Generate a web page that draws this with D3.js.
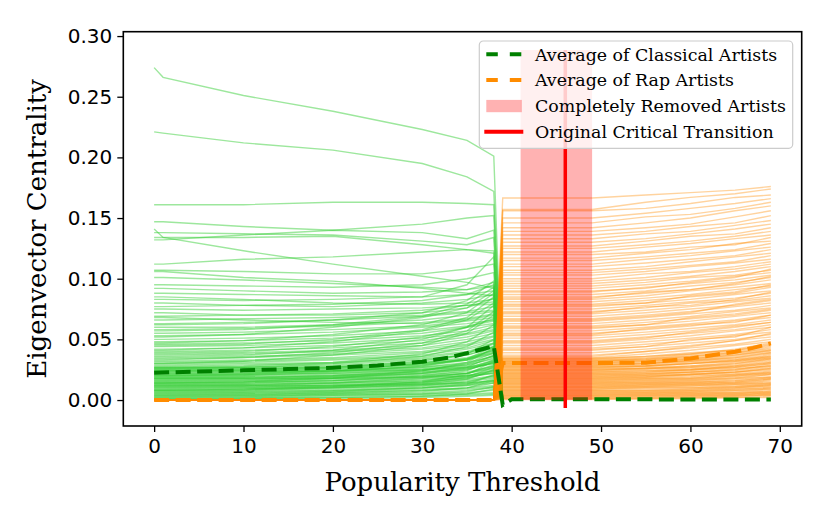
<!DOCTYPE html>
<html>
<head>
<meta charset="utf-8">
<script src="https://cdn.jsdelivr.net/npm/d3@7"></script>
<style>
	body { margin: 0; background: #fff; }
	svg { display: block; }
</style>
</head>
<body>
<svg id="chart" width="830" height="523"></svg>
<script>
var classicalX = [0, 1, 10, 20, 30, 35, 38, 39];
var classicalLines = [
	[0.274, 0.266, 0.251, 0.238, 0.223, 0.214, 0.201, 0],
	[0.221, 0.220, 0.212, 0.206, 0.195, 0.184, 0.172, 0],
	[0.161, 0.161, 0.161, 0.163, 0.163, 0.162, 0.161, 0],
	[0.147, 0.147, 0.143, 0.140, 0.145, 0.150, 0.152, 0],
	[0.141, 0.134, 0.123, 0.112, 0.102, 0.097, 0.092, 0],
	[0.138, 0.138, 0.137, 0.136, 0.131, 0.128, 0.134, 0],
	[0.132, 0.132, 0.136, 0.140, 0.138, 0.133, 0.140, 0],
	[0.134, 0.134, 0.134, 0.135, 0.128, 0.124, 0.123, 0],
	[0.112, 0.112, 0.116, 0.118, 0.122, 0.124, 0.121, 0],
	[0.107, 0.107, 0.106, 0.104, 0.104, 0.108, 0.112, 0],
	[0.106, 0.106, 0.101, 0.098, 0.092, 0.088, 0.086, 0],
	[0.101, 0.101, 0.099, 0.096, 0.093, 0.091, 0.094, 0],
	[0.095, 0.095, 0.094, 0.093, 0.095, 0.100, 0.105, 0],
	[0.092, 0.092, 0.090, 0.088, 0.089, 0.091, 0.097, 0],
	[0.088, 0.088, 0.087, 0.086, 0.085, 0.087, 0.090, 0],
	[0.085, 0.085, 0.083, 0.080, 0.079, 0.080, 0.083, 0],
	[0.083, 0.083, 0.082, 0.083, 0.085, 0.095, 0.118, 0],
	[0.080, 0.080, 0.078, 0.077, 0.080, 0.083, 0.087, 0],
	[0.077, 0.077, 0.078, 0.079, 0.082, 0.087, 0.095, 0],
	[0.075, 0.075, 0.074, 0.075, 0.076, 0.078, 0.081, 0],
	[0.072, 0.072, 0.070, 0.071, 0.074, 0.078, 0.079, 0],
	[0.069, 0.069, 0.070, 0.070, 0.072, 0.076, 0.084, 0],
	[0.068, 0.068, 0.066, 0.064, 0.063, 0.066, 0.070, 0],
	[0.066, 0.066, 0.067, 0.068, 0.070, 0.073, 0.077, 0],
	[0.063, 0.063, 0.064, 0.066, 0.069, 0.072, 0.074, 0],
	[0.062, 0.062, 0.063, 0.066, 0.072, 0.082, 0.098, 0],
	[0.060, 0.060, 0.060, 0.062, 0.066, 0.070, 0.073, 0],
	[0.058, 0.058, 0.059, 0.061, 0.064, 0.067, 0.071, 0],
	[0.057, 0.057, 0.058, 0.062, 0.069, 0.079, 0.093, 0],
	[0.055, 0.055, 0.056, 0.058, 0.061, 0.065, 0.068, 0],
	[0.053, 0.053, 0.054, 0.056, 0.060, 0.063, 0.066, 0],
	[0.052, 0.052, 0.054, 0.060, 0.068, 0.076, 0.090, 0],
	[0.050, 0.050, 0.051, 0.053, 0.057, 0.061, 0.065, 0],
	[0.048, 0.048, 0.049, 0.051, 0.055, 0.060, 0.063, 0],
	[0.047, 0.047, 0.049, 0.054, 0.062, 0.072, 0.088, 0],
	[0.046, 0.046, 0.047, 0.049, 0.053, 0.057, 0.062, 0],
	[0.045, 0.045, 0.046, 0.050, 0.058, 0.068, 0.085, 0],
	[0.044, 0.044, 0.045, 0.047, 0.051, 0.055, 0.060, 0],
	[0.042, 0.042, 0.043, 0.045, 0.049, 0.054, 0.058, 0],
	[0.041, 0.041, 0.043, 0.048, 0.057, 0.066, 0.080, 0],
	[0.040, 0.040, 0.041, 0.043, 0.047, 0.052, 0.057, 0],
	[0.039, 0.039, 0.040, 0.044, 0.052, 0.060, 0.067, 0],
	[0.038, 0.038, 0.039, 0.041, 0.045, 0.050, 0.055, 0],
	[0.037, 0.037, 0.038, 0.040, 0.043, 0.048, 0.053, 0],
	[0.036, 0.036, 0.037, 0.041, 0.050, 0.060, 0.078, 0],
	[0.035, 0.035, 0.036, 0.038, 0.042, 0.046, 0.052, 0],
	[0.034, 0.034, 0.035, 0.037, 0.040, 0.045, 0.050, 0],
	[0.033, 0.033, 0.035, 0.039, 0.047, 0.057, 0.073, 0],
	[0.032, 0.032, 0.033, 0.035, 0.039, 0.043, 0.049, 0],
	[0.031, 0.031, 0.032, 0.034, 0.037, 0.042, 0.047, 0],
	[0.030, 0.030, 0.032, 0.037, 0.045, 0.055, 0.070, 0],
	[0.030, 0.030, 0.031, 0.033, 0.036, 0.040, 0.046, 0],
	[0.029, 0.029, 0.030, 0.031, 0.035, 0.039, 0.044, 0],
	[0.028, 0.028, 0.029, 0.030, 0.034, 0.037, 0.043, 0],
	[0.027, 0.027, 0.028, 0.031, 0.038, 0.048, 0.062, 0],
	[0.027, 0.027, 0.027, 0.028, 0.031, 0.035, 0.041, 0],
	[0.0265, 0.0265, 0.027, 0.029, 0.033, 0.037, 0.044, 0],
	[0.026, 0.026, 0.027, 0.030, 0.036, 0.044, 0.056, 0],
	[0.026, 0.026, 0.026, 0.027, 0.030, 0.033, 0.038, 0],
	[0.0255, 0.0255, 0.026, 0.027, 0.030, 0.034, 0.039, 0],
	[0.025, 0.025, 0.025, 0.026, 0.029, 0.033, 0.040, 0],
	[0.0245, 0.0245, 0.025, 0.027, 0.032, 0.038, 0.047, 0],
	[0.024, 0.024, 0.024, 0.025, 0.027, 0.031, 0.036, 0],
	[0.024, 0.024, 0.024, 0.024, 0.025, 0.027, 0.030, 0],
	[0.0235, 0.0235, 0.024, 0.026, 0.029, 0.034, 0.041, 0],
	[0.023, 0.023, 0.023, 0.024, 0.026, 0.029, 0.034, 0],
	[0.0225, 0.0225, 0.023, 0.024, 0.027, 0.030, 0.036, 0],
	[0.022, 0.022, 0.022, 0.023, 0.025, 0.028, 0.035, 0],
	[0.0215, 0.0215, 0.022, 0.024, 0.028, 0.033, 0.042, 0],
	[0.021, 0.021, 0.021, 0.022, 0.024, 0.027, 0.032, 0],
	[0.0205, 0.0205, 0.021, 0.022, 0.025, 0.029, 0.037, 0],
	[0.020, 0.020, 0.020, 0.021, 0.023, 0.026, 0.030, 0],
	[0.020, 0.020, 0.021, 0.024, 0.030, 0.038, 0.050, 0],
	[0.0195, 0.0195, 0.020, 0.023, 0.028, 0.034, 0.044, 0],
	[0.019, 0.019, 0.019, 0.020, 0.022, 0.025, 0.031, 0],
	[0.0185, 0.0185, 0.019, 0.020, 0.023, 0.026, 0.033, 0],
	[0.018, 0.018, 0.018, 0.019, 0.021, 0.023, 0.028, 0],
	[0.018, 0.018, 0.018, 0.018, 0.019, 0.020, 0.022, 0],
	[0.0175, 0.0175, 0.018, 0.020, 0.024, 0.030, 0.039, 0],
	[0.017, 0.017, 0.017, 0.018, 0.020, 0.022, 0.026, 0],
	[0.0165, 0.0165, 0.017, 0.019, 0.022, 0.025, 0.031, 0],
	[0.016, 0.016, 0.016, 0.017, 0.019, 0.022, 0.027, 0],
	[0.0155, 0.0155, 0.016, 0.018, 0.022, 0.027, 0.037, 0],
	[0.015, 0.015, 0.015, 0.016, 0.018, 0.020, 0.024, 0],
	[0.0145, 0.0145, 0.015, 0.016, 0.019, 0.022, 0.028, 0],
	[0.014, 0.014, 0.014, 0.015, 0.017, 0.019, 0.022, 0],
	[0.014, 0.014, 0.015, 0.018, 0.024, 0.031, 0.043, 0],
	[0.0135, 0.0135, 0.014, 0.016, 0.020, 0.024, 0.033, 0],
	[0.013, 0.013, 0.013, 0.014, 0.016, 0.018, 0.023, 0],
	[0.0125, 0.0125, 0.013, 0.014, 0.016, 0.020, 0.025, 0],
	[0.012, 0.012, 0.012, 0.013, 0.015, 0.017, 0.020, 0],
	[0.012, 0.012, 0.012, 0.012, 0.013, 0.014, 0.016, 0],
	[0.0115, 0.0115, 0.012, 0.014, 0.018, 0.022, 0.029, 0],
	[0.011, 0.011, 0.011, 0.012, 0.014, 0.016, 0.019, 0],
	[0.0105, 0.0105, 0.011, 0.012, 0.015, 0.018, 0.024, 0],
	[0.010, 0.010, 0.010, 0.011, 0.013, 0.015, 0.018, 0],
	[0.0095, 0.0095, 0.010, 0.011, 0.014, 0.019, 0.027, 0],
	[0.009, 0.009, 0.009, 0.010, 0.012, 0.014, 0.016, 0],
	[0.0085, 0.0085, 0.009, 0.010, 0.012, 0.015, 0.020, 0],
	[0.008, 0.008, 0.008, 0.009, 0.011, 0.013, 0.015, 0],
	[0.008, 0.008, 0.009, 0.011, 0.015, 0.021, 0.032, 0],
	[0.0075, 0.0075, 0.008, 0.010, 0.013, 0.017, 0.025, 0],
	[0.007, 0.007, 0.007, 0.008, 0.010, 0.012, 0.014, 0],
	[0.0065, 0.0065, 0.007, 0.008, 0.010, 0.012, 0.017, 0],
	[0.006, 0.006, 0.006, 0.007, 0.009, 0.010, 0.012, 0],
	[0.0055, 0.0055, 0.006, 0.007, 0.010, 0.013, 0.021, 0],
	[0.005, 0.005, 0.005, 0.006, 0.008, 0.009, 0.011, 0],
	[0.0045, 0.0045, 0.005, 0.006, 0.008, 0.010, 0.014, 0],
	[0.004, 0.004, 0.004, 0.005, 0.006, 0.008, 0.010, 0],
	[0.0035, 0.0035, 0.004, 0.005, 0.007, 0.010, 0.016, 0],
	[0.003, 0.003, 0.003, 0.004, 0.005, 0.006, 0.008, 0],
	[0.0025, 0.0025, 0.003, 0.004, 0.005, 0.007, 0.011, 0],
	[0.002, 0.002, 0.002, 0.003, 0.004, 0.005, 0.006, 0],
	[0.0015, 0.0015, 0.002, 0.002, 0.003, 0.005, 0.009, 0],
	[0.001, 0.001, 0.001, 0.002, 0.003, 0.004, 0.005, 0],
	[0.0005, 0.0005, 0.001, 0.001, 0.002, 0.003, 0.004, 0]
];

// rap artists sit at zero until the transition, then stay flat until 49
var rapPreX = [0, 38];
var rapPreValue = 0;
var rapX = [39, 49, 55, 60, 65, 69];
var rapLines = [
	[0.1665, 0.1665, 0.169, 0.171, 0.173, 0.176],
	[0.157, 0.157, 0.163, 0.167, 0.170, 0.174],
	[0.156, 0.156, 0.158, 0.162, 0.167, 0.169],
	[0.150, 0.150, 0.154, 0.158, 0.162, 0.166],
	[0.146, 0.146, 0.151, 0.153, 0.158, 0.163],
	[0.142, 0.142, 0.146, 0.150, 0.156, 0.160],
	[0.139, 0.139, 0.142, 0.145, 0.151, 0.156],
	[0.136, 0.136, 0.139, 0.143, 0.146, 0.152],
	[0.133, 0.133, 0.137, 0.139, 0.144, 0.148],
	[0.130, 0.130, 0.133, 0.137, 0.141, 0.145],
	[0.127, 0.127, 0.131, 0.135, 0.137, 0.142],
	[0.125, 0.125, 0.128, 0.131, 0.135, 0.139],
	[0.122, 0.122, 0.126, 0.129, 0.133, 0.136],
	[0.120, 0.120, 0.122, 0.126, 0.128, 0.134],
	[0.117, 0.117, 0.121, 0.124, 0.129, 0.131],
	[0.115, 0.115, 0.118, 0.121, 0.124, 0.129],
	[0.112, 0.112, 0.116, 0.119, 0.123, 0.126],
	[0.110, 0.110, 0.113, 0.116, 0.119, 0.124],
	[0.107, 0.107, 0.110, 0.114, 0.118, 0.121],
	[0.105, 0.105, 0.108, 0.111, 0.114, 0.119],
	[0.103, 0.103, 0.106, 0.110, 0.113, 0.116],
	[0.100, 0.100, 0.104, 0.106, 0.110, 0.114],
	[0.098, 0.098, 0.101, 0.105, 0.108, 0.112],
	[0.096, 0.096, 0.099, 0.102, 0.106, 0.110],
	[0.094, 0.094, 0.097, 0.101, 0.103, 0.107],
	[0.092, 0.092, 0.095, 0.098, 0.102, 0.105],
	[0.090, 0.090, 0.092, 0.097, 0.101, 0.108],
	[0.089, 0.089, 0.093, 0.096, 0.099, 0.103],
	[0.087, 0.087, 0.090, 0.094, 0.097, 0.101],
	[0.085, 0.085, 0.088, 0.091, 0.095, 0.099],
	[0.084, 0.084, 0.089, 0.091, 0.096, 0.102],
	[0.083, 0.083, 0.086, 0.090, 0.093, 0.096],
	[0.081, 0.081, 0.084, 0.087, 0.091, 0.094],
	[0.079, 0.079, 0.082, 0.085, 0.088, 0.093],
	[0.078, 0.078, 0.080, 0.086, 0.089, 0.095],
	[0.077, 0.077, 0.080, 0.083, 0.087, 0.090],
	[0.075, 0.075, 0.078, 0.081, 0.084, 0.088],
	[0.073, 0.073, 0.076, 0.080, 0.082, 0.086],
	[0.072, 0.072, 0.077, 0.078, 0.083, 0.089],
	[0.071, 0.071, 0.074, 0.077, 0.081, 0.084],
	[0.069, 0.069, 0.072, 0.075, 0.078, 0.082],
	[0.067, 0.067, 0.070, 0.073, 0.077, 0.080],
	[0.066, 0.066, 0.069, 0.072, 0.079, 0.083],
	[0.065, 0.065, 0.068, 0.071, 0.074, 0.078],
	[0.063, 0.063, 0.066, 0.069, 0.073, 0.076],
	[0.061, 0.061, 0.064, 0.067, 0.070, 0.074],
	[0.060, 0.060, 0.062, 0.068, 0.071, 0.075],
	[0.059, 0.059, 0.062, 0.065, 0.069, 0.072],
	[0.057, 0.057, 0.060, 0.063, 0.066, 0.070],
	[0.055, 0.055, 0.058, 0.061, 0.065, 0.068],
	[0.054, 0.054, 0.059, 0.062, 0.064, 0.070],
	[0.053, 0.053, 0.056, 0.059, 0.062, 0.066],
	[0.051, 0.051, 0.054, 0.057, 0.061, 0.064],
	[0.049, 0.049, 0.052, 0.055, 0.058, 0.062],
	[0.048, 0.048, 0.051, 0.056, 0.060, 0.064],
	[0.047, 0.047, 0.050, 0.053, 0.057, 0.060],
	[0.045, 0.045, 0.048, 0.051, 0.054, 0.058],
	[0.043, 0.043, 0.046, 0.049, 0.053, 0.056],
	[0.042, 0.042, 0.044, 0.050, 0.052, 0.060],
	[0.041, 0.041, 0.044, 0.047, 0.050, 0.054],
	[0.039, 0.039, 0.042, 0.045, 0.049, 0.052],
	[0.037, 0.037, 0.040, 0.043, 0.046, 0.050],
	[0.036, 0.036, 0.040, 0.044, 0.049, 0.055],
	[0.035, 0.035, 0.038, 0.041, 0.045, 0.048],
	[0.0345, 0.0345, 0.036, 0.038, 0.042, 0.047],
	[0.034, 0.034, 0.036, 0.039, 0.041, 0.045],
	[0.0335, 0.0335, 0.035, 0.038, 0.041, 0.046],
	[0.033, 0.033, 0.034, 0.036, 0.039, 0.042],
	[0.0325, 0.0325, 0.033, 0.035, 0.038, 0.041],
	[0.032, 0.032, 0.034, 0.037, 0.040, 0.044],
	[0.0315, 0.0315, 0.033, 0.036, 0.039, 0.043],
	[0.031, 0.031, 0.032, 0.034, 0.037, 0.040],
	[0.0305, 0.0305, 0.032, 0.034, 0.037, 0.041],
	[0.030, 0.030, 0.031, 0.033, 0.036, 0.039],
	[0.0295, 0.0295, 0.030, 0.032, 0.034, 0.037],
	[0.029, 0.029, 0.030, 0.032, 0.035, 0.038],
	[0.0285, 0.0285, 0.030, 0.033, 0.035, 0.039],
	[0.028, 0.028, 0.029, 0.031, 0.033, 0.036],
	[0.0275, 0.0275, 0.028, 0.030, 0.032, 0.035],
	[0.027, 0.027, 0.028, 0.030, 0.032, 0.035],
	[0.0265, 0.0265, 0.028, 0.030, 0.033, 0.036],
	[0.026, 0.026, 0.027, 0.028, 0.031, 0.034],
	[0.0255, 0.0255, 0.026, 0.028, 0.030, 0.033],
	[0.025, 0.025, 0.026, 0.027, 0.029, 0.032],
	[0.0245, 0.0245, 0.026, 0.027, 0.030, 0.034],
	[0.024, 0.024, 0.025, 0.026, 0.028, 0.031],
	[0.0235, 0.0235, 0.024, 0.025, 0.027, 0.030],
	[0.023, 0.023, 0.024, 0.025, 0.027, 0.030],
	[0.0225, 0.0225, 0.023, 0.025, 0.028, 0.031],
	[0.022, 0.022, 0.023, 0.024, 0.026, 0.028],
	[0.0215, 0.0215, 0.022, 0.023, 0.025, 0.028],
	[0.021, 0.021, 0.022, 0.023, 0.024, 0.027],
	[0.0205, 0.0205, 0.021, 0.023, 0.025, 0.029],
	[0.020, 0.020, 0.021, 0.022, 0.023, 0.026],
	[0.0195, 0.0195, 0.020, 0.021, 0.023, 0.025],
	[0.019, 0.019, 0.020, 0.021, 0.022, 0.024],
	[0.0185, 0.0185, 0.019, 0.021, 0.023, 0.026],
	[0.018, 0.018, 0.019, 0.020, 0.021, 0.023],
	[0.0175, 0.0175, 0.018, 0.019, 0.021, 0.023],
	[0.017, 0.017, 0.018, 0.018, 0.020, 0.022],
	[0.0165, 0.0165, 0.017, 0.018, 0.020, 0.022],
	[0.016, 0.016, 0.017, 0.017, 0.019, 0.021],
	[0.0155, 0.0155, 0.016, 0.017, 0.018, 0.021],
	[0.015, 0.015, 0.016, 0.016, 0.018, 0.019],
	[0.0145, 0.0145, 0.015, 0.016, 0.017, 0.019],
	[0.014, 0.014, 0.015, 0.015, 0.016, 0.018],
	[0.0135, 0.0135, 0.014, 0.015, 0.016, 0.018],
	[0.013, 0.013, 0.014, 0.014, 0.015, 0.017],
	[0.0125, 0.0125, 0.013, 0.014, 0.015, 0.017],
	[0.012, 0.012, 0.013, 0.013, 0.014, 0.016],
	[0.0115, 0.0115, 0.012, 0.013, 0.014, 0.015],
	[0.011, 0.011, 0.012, 0.012, 0.013, 0.014],
	[0.0105, 0.0105, 0.011, 0.012, 0.013, 0.014],
	[0.010, 0.010, 0.011, 0.011, 0.012, 0.013],
	[0.0095, 0.0095, 0.010, 0.010, 0.011, 0.013],
	[0.009, 0.009, 0.010, 0.010, 0.011, 0.012],
	[0.0085, 0.0085, 0.009, 0.009, 0.010, 0.012],
	[0.008, 0.008, 0.008, 0.009, 0.010, 0.011],
	[0.0075, 0.0075, 0.008, 0.008, 0.009, 0.010],
	[0.007, 0.007, 0.007, 0.008, 0.009, 0.010],
	[0.0065, 0.0065, 0.007, 0.007, 0.008, 0.009],
	[0.006, 0.006, 0.006, 0.007, 0.008, 0.009],
	[0.0055, 0.0055, 0.006, 0.006, 0.007, 0.008],
	[0.005, 0.005, 0.005, 0.006, 0.006, 0.007],
	[0.0045, 0.0045, 0.005, 0.005, 0.006, 0.007],
	[0.004, 0.004, 0.004, 0.005, 0.005, 0.006],
	[0.0035, 0.0035, 0.004, 0.004, 0.005, 0.006],
	[0.003, 0.003, 0.003, 0.004, 0.004, 0.005],
	[0.0025, 0.0025, 0.003, 0.003, 0.004, 0.005],
	[0.002, 0.002, 0.002, 0.003, 0.003, 0.004],
	[0.0015, 0.0015, 0.002, 0.002, 0.003, 0.004],
	[0.001, 0.001, 0.001, 0.002, 0.002, 0.003],
	[0.0005, 0.0005, 0.001, 0.001, 0.002, 0.002]
];

// averages
var classicalAvgX = [0, 5, 10, 15, 20, 25, 30, 33, 35, 37, 38, 39, 40, 69];
var classicalAvg = [0.0225, 0.0235, 0.0245, 0.0255, 0.0266, 0.0285, 0.0316, 0.035, 0.0387, 0.0425, 0.0445, -0.004, 0.0006, 0.0005];
var rapAvgX = [0, 38, 39, 49, 55, 60, 65, 67, 69];
var rapAvg = [0, 0, 0.0305, 0.0305, 0.0308, 0.0343, 0.0398, 0.043, 0.0467];

// removed artists and the original critical transition
var removedSpan = [41, 49];
var removedSpanY = [0, 0.2885];
var transitionX = 46;
var transitionY = [-0.0066, 0.2885];

var xTicks = [0, 10, 20, 30, 40, 50, 60, 70];
var yTicks = [0.00, 0.05, 0.10, 0.15, 0.20, 0.25, 0.30];

var legendItems = [
	{ label: "Average of Classical Artists", kind: "dash", color: "#008000" },
	{ label: "Average of Rap Artists", kind: "dash", color: "#ff8c00" },
	{ label: "Completely Removed Artists", kind: "patch", color: "#ff0000" },
	{ label: "Original Critical Transition", kind: "line", color: "#ff0000" }
];

var svg = d3.select("#chart");
var margin = { left: 123.3, right: 801.7, top: 31.7, bottom: 426 };

var x = d3.scaleLinear().domain([-3.45, 72.45]).range([margin.left, margin.right]);
var y = d3.scaleLinear().domain([-0.0214, 0.3036]).range([margin.bottom, margin.top]);

svg.append("defs").append("clipPath").attr("id", "plot-clip")
	.append("rect")
	.attr("x", margin.left).attr("y", margin.top)
	.attr("width", margin.right - margin.left)
	.attr("height", margin.bottom - margin.top);

var plot = svg.append("g").attr("clip-path", "url(#plot-clip)");

var line = d3.line()
	.x(function(d) { return x(d[0]); })
	.y(function(d) { return y(d[1]); });

// classical artists
plot.append("g").selectAll("path")
	.data(classicalLines)
	.enter().append("path")
	.attr("d", function(row) {
		return line(row.map(function(v, i) { return [classicalX[i], v]; }));
	})
	.style("fill", "none")
	.style("stroke", "#32cd32")
	.style("stroke-opacity", 0.48)
	.style("stroke-width", 1.4);

// rap artists
plot.append("g").selectAll("path")
	.data(rapLines)
	.enter().append("path")
	.attr("d", function(row) {
		var pts = rapPreX.map(function(px) { return [px, rapPreValue]; });
		row.forEach(function(v, i) { pts.push([rapX[i], v]); });
		return line(pts);
	})
	.style("fill", "none")
	.style("stroke", "#ff8c00")
	.style("stroke-opacity", 0.38)
	.style("stroke-width", 1.4);

// averages, rap first so the classical dash sits on top
plot.append("path")
	.attr("d", line(rapAvgX.map(function(v, i) { return [v, rapAvg[i]]; })))
	.style("fill", "none")
	.style("stroke", "#ff8c00")
	.style("stroke-width", 4)
	.style("stroke-dasharray", "15,6.5");

plot.append("path")
	.attr("d", line(classicalAvgX.map(function(v, i) { return [v, classicalAvg[i]]; })))
	.style("fill", "none")
	.style("stroke", "#008000")
	.style("stroke-width", 4)
	.style("stroke-dasharray", "15,6.5");

plot.append("rect")
	.attr("x", x(removedSpan[0]))
	.attr("width", x(removedSpan[1]) - x(removedSpan[0]))
	.attr("y", y(removedSpanY[1]))
	.attr("height", y(removedSpanY[0]) - y(removedSpanY[1]))
	.style("fill", "#ff0000")
	.style("fill-opacity", 0.3);

plot.append("line")
	.attr("x1", x(transitionX)).attr("x2", x(transitionX))
	.attr("y1", y(transitionY[0])).attr("y2", y(transitionY[1]))
	.style("stroke", "#ff0000")
	.style("stroke-width", 3.5);

// axes
var xAxis = svg.append("g")
	.attr("transform", "translate(0," + margin.bottom + ")")
	.call(d3.axisBottom(x).tickValues(xTicks).tickSize(6).tickPadding(7).tickFormat(d3.format("d")));

var yAxis = svg.append("g")
	.attr("transform", "translate(" + margin.left + ",0)")
	.call(d3.axisLeft(y).tickValues(yTicks).tickSize(6).tickPadding(5).tickFormat(d3.format(".2f")));

[xAxis, yAxis].forEach(function(axis) {
	axis.select(".domain").remove();
	axis.selectAll(".tick line").style("stroke", "#000").style("stroke-width", 1.3);
	axis.selectAll(".tick text")
		.style("font-family", "'DejaVu Sans'")
		.style("font-size", "20px")
		.style("fill", "#000");
});

// frame
svg.append("rect")
	.attr("x", margin.left).attr("y", margin.top)
	.attr("width", margin.right - margin.left)
	.attr("height", margin.bottom - margin.top)
	.style("fill", "none")
	.style("stroke", "#000")
	.style("stroke-width", 1.6);

svg.append("text")
	.attr("x", (margin.left + margin.right) / 2)
	.attr("y", 491)
	.attr("text-anchor", "middle")
	.style("font-family", "'DejaVu Serif'")
	.style("font-size", "26px")
	.text("Popularity Threshold");

svg.append("text")
	.attr("transform", "translate(46," + ((margin.top + margin.bottom) / 2) + ") rotate(-90)")
	.attr("text-anchor", "middle")
	.style("font-family", "'DejaVu Serif'")
	.style("font-size", "26px")
	.text("Eigenvector Centrality");

// legend
var legend = svg.append("g").attr("transform", "translate(479.3,41)");
legend.append("rect")
	.attr("width", 313.4).attr("height", 107.3)
	.attr("rx", 4)
	.style("fill", "#fff").style("fill-opacity", 0.8)
	.style("stroke", "#cccccc").style("stroke-width", 1.2);

var items = legend.selectAll("g.item")
	.data(legendItems)
	.enter().append("g")
	.attr("class", "item")
	.attr("transform", function(d, i) { return "translate(0," + (13.3 + i * 25.8) + ")"; });

items.each(function(d) {
	var g = d3.select(this);
	if (d.kind == "dash") {
		g.append("line").attr("x1", 7).attr("x2", 42.5).attr("y1", 0).attr("y2", 0)
			.style("stroke", d.color).style("stroke-width", 4)
			.style("stroke-dasharray", "11.5,12");
	}
	else if (d.kind == "patch") {
		g.append("rect").attr("x", 7).attr("y", -6).attr("width", 35.5).attr("height", 12.3)
			.style("fill", d.color).style("fill-opacity", 0.3);
	}
	else {
		g.append("line").attr("x1", 5).attr("x2", 44).attr("y1", 0).attr("y2", 0)
			.style("stroke", d.color).style("stroke-width", 4);
	}
	g.append("text")
		.attr("x", 55.7)
		.attr("y", 0)
		.attr("dy", "0.36em")
		.style("font-family", "'DejaVu Serif'")
		.style("font-size", "17.4px")
		.text(d.label);
});
</script>
</body>
</html>
